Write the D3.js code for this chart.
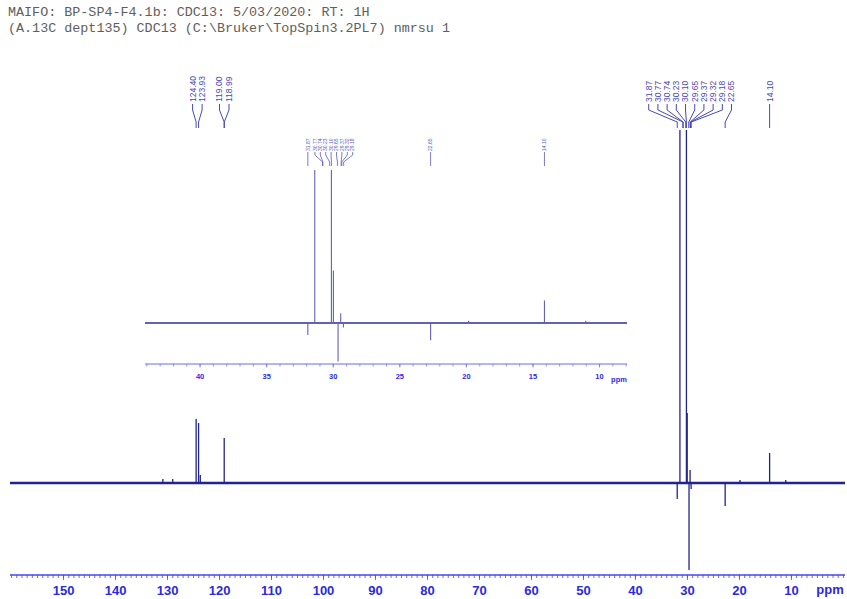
<!DOCTYPE html>
<html>
<head>
<meta charset="utf-8">
<script src="https://cdn.jsdelivr.net/npm/d3@7"></script>
<style>
  html, body { margin: 0; padding: 0; background: #fff; }
  svg { display: block; }
</style>
</head>
<body>
<svg id="chart" width="847" height="599"></svg>
<script>
// ---- header lines ----
const headerLines = [
  "MAIFO: BP-SP4-F4.1b: CDC13: 5/03/2020: RT: 1H",
  "(A.13C dept135) CDC13 (C:\\Bruker\\TopSpin3.2PL7) nmrsu 1"
];

// ---- spectrum peaks: chemical shift (ppm) and signed intensity ----
const peakPpm = [130.8, 128.9, 124.40, 123.93, 123.6, 119.00, 31.87, 31.35, 30.10, 29.95, 29.60, 29.40, 29.20, 22.65, 19.80, 14.10, 11.00];
const peakInt = [4, 4, 64, 60, 8, 45, -16, 1000, 1000, 70, -120, 13, -6, -23, 3, 30, 3];

// ---- peak-pick labels ----
const labelsLeft  = [124.40, 123.93, 119.00, 118.99];
const labelsRight = [31.87, 30.77, 30.74, 30.23, 30.10, 29.65, 29.37, 29.32, 29.18, 22.65];
const labelsFar   = [14.10];
const insetLabels = [31.87, 30.77, 30.74, 30.23, 30.10, 29.65, 29.37, 29.32, 29.18, 22.65, 14.10];

// ---- axis ticks ----
const mainTickLabels = [150, 140, 130, 120, 110, 100, 90, 80, 70, 60, 50, 40, 30, 20, 10];
const insetTickLabels = [40, 35, 30, 25, 20, 15, 10];

const svg = d3.select("#chart");

const cSpec = "#23238c", cInset = "#6262b4", cAxis = "#4646ee", cAxisText = "#2a2ae0", cLabel = "#4848b4";
const axisFont = "'Liberation Sans Narrow', 'Arial Narrow', 'Liberation Sans', sans-serif";

// header
svg.selectAll("text.hdr").data(headerLines).join("text")
  .attr("class", "hdr")
  .attr("x", 8).attr("y", (d, i) => 16 + i * 16)
  .attr("font-family", "'Liberation Mono', 'DejaVu Sans Mono', monospace")
  .attr("font-size", 13.4).attr("fill", "#5e5e5e")
  .text(d => d);

// ===== main spectrum =====
const x = d3.scaleLinear().domain([160.2, -0.4]).range([10, 845]);
const y = d3.scaleLinear().domain([-87, 353]).range([570, 130]).clamp(true);

const main = svg.append("g");
main.append("line")
  .attr("x1", x(160.2)).attr("x2", x(-0.4))
  .attr("y1", y(0)).attr("y2", y(0))
  .attr("stroke", cSpec).attr("stroke-width", 2.6);

main.selectAll("line.pk").data(d3.zip(peakPpm, peakInt)).join("line")
  .attr("class", "pk")
  .attr("x1", d => x(d[0])).attr("x2", d => x(d[0]))
  .attr("y1", y(0)).attr("y2", d => y(d[1]))
  .attr("stroke", cSpec).attr("stroke-width", 1.3);

// main axis: minor ticks every ppm, labelled ticks every 10
const axisY = 575;
const minorAxis = d3.axisBottom(x).tickValues(d3.range(0, 161, 1)).tickSize(3).tickFormat("");
const majorAxis = d3.axisBottom(x).tickValues(mainTickLabels).tickSize(5).tickPadding(6).tickFormat(d3.format("d"));
const gMinor = svg.append("g").attr("transform", `translate(0,${axisY})`).call(minorAxis);
const gMajor = svg.append("g").attr("transform", `translate(0,${axisY})`).call(majorAxis);
gMinor.select(".domain").attr("stroke", cAxis).attr("stroke-width", 1.5).attr("d", `M${x(160.2)},0H${x(-0.4)}`);
gMajor.select(".domain").remove();
[gMinor, gMajor].forEach(g => g.selectAll(".tick line").attr("stroke", cAxis).attr("stroke-width", 0.8));
gMajor.selectAll(".tick text")
  .attr("fill", cAxisText).attr("font-weight", "bold").attr("font-size", 13)
  .attr("font-family", axisFont);
svg.append("text").attr("x", 830).attr("y", 594).attr("text-anchor", "middle")
  .attr("fill", cAxisText).attr("font-weight", "bold").attr("font-size", 13)
  .attr("font-family", axisFont)
  .text("ppm");

// spread clustered labels apart, centring each cluster on its peaks
function spread(values, scale, gap) {
  let clusters = values.map(v => ({ items: [v], c: scale(v) }));
  clusters.sort((a, b) => a.c - b.c);
  let merged = true;
  while (merged) {
    merged = false;
    for (let i = 1; i < clusters.length; i++) {
      const a = clusters[i - 1], b = clusters[i];
      const aEnd = a.c + (a.items.length - 1) * gap / 2;
      const bStart = b.c - (b.items.length - 1) * gap / 2;
      if (bStart - aEnd < gap) {
        const items = a.items.concat(b.items);
        const c = d3.mean(items, v => scale(v));
        clusters.splice(i - 1, 2, { items, c });
        merged = true;
        break;
      }
    }
  }
  const out = [];
  clusters.forEach(cl => {
    const sorted = cl.items.slice().sort((p, q) => scale(p) - scale(q));
    sorted.forEach((v, k) => out.push({ v, lx: cl.c + (k - (sorted.length - 1) / 2) * gap, px: scale(v) }));
  });
  return out;
}

function drawLabels(list, opt) {
  const g = svg.append("g");
  list.forEach(d => {
    g.append("text")
      .attr("transform", `translate(${d.lx + opt.fs * 0.35},${opt.textBottom}) rotate(-90)`)
      .attr("font-family", "'Liberation Sans', Arial, sans-serif")
      .attr("font-size", opt.fs).attr("fill", opt.color)
      .text(d3.format(".2f")(d.v));
    g.append("path")
      .attr("d", `M${d.lx},${opt.l0}V${opt.l1}L${d.px},${opt.l2}V${opt.l3}`)
      .attr("fill", "none").attr("stroke", opt.color).attr("stroke-width", opt.sw);
  });
}

const mainOpt = { fs: 8.5, textBottom: 102, l0: 104, l1: 110, l2: 122, l3: 128, color: cLabel, sw: 1 };
drawLabels(spread(labelsLeft, x, 9.5), mainOpt);
drawLabels(spread(labelsRight, x, 9.2), mainOpt);
drawLabels(spread(labelsFar, x, 9.2), mainOpt);

// ===== inset expansion 44 – 8 ppm =====
const xi = d3.scaleLinear().domain([44.1, 7.9]).range([145, 627]);
const yi = d3.scaleLinear().domain([-51.3, 204]).range([361.5, 170]).clamp(true);

const inset = svg.append("g");
inset.append("line")
  .attr("x1", xi(44.1)).attr("x2", xi(7.9))
  .attr("y1", yi(0)).attr("y2", yi(0))
  .attr("stroke", cInset).attr("stroke-width", 1.8);
const insetPeaks = d3.zip(peakPpm, peakInt).filter(d => d[0] <= 44.1 && d[0] >= 7.9);
inset.selectAll("line.pk").data(insetPeaks).join("line")
  .attr("class", "pk")
  .attr("x1", d => xi(d[0])).attr("x2", d => xi(d[0]))
  .attr("y1", yi(0)).attr("y2", d => yi(d[1]))
  .attr("stroke", cInset).attr("stroke-width", 1.1);

const insetAxisY = 364;
const iMinor = d3.axisBottom(xi).tickValues(d3.range(8, 45, 1)).tickSize(2.5).tickFormat("");
const iMajor = d3.axisBottom(xi).tickValues(insetTickLabels).tickSize(3.5).tickPadding(6).tickFormat(d3.format("d"));
const giMinor = svg.append("g").attr("transform", `translate(0,${insetAxisY})`).call(iMinor);
const giMajor = svg.append("g").attr("transform", `translate(0,${insetAxisY})`).call(iMajor);
giMinor.select(".domain").attr("stroke", "#6a6af0").attr("stroke-width", 1).attr("d", `M${xi(44.1)},0H${xi(7.9)}`);
giMajor.select(".domain").remove();
[giMinor, giMajor].forEach(g => g.selectAll(".tick line").attr("stroke", "#6a6af0").attr("stroke-width", 0.7));
giMajor.selectAll(".tick text")
  .attr("fill", cAxisText).attr("font-weight", "bold").attr("font-size", 7.5)
  .attr("font-family", axisFont);
svg.append("text").attr("x", 619).attr("y", 382).attr("text-anchor", "middle")
  .attr("fill", cAxisText).attr("font-weight", "bold").attr("font-size", 7.5)
  .attr("font-family", axisFont)
  .text("ppm");

const insetOpt = { fs: 5, textBottom: 151, l0: 152, l1: 155, l2: 162, l3: 166, color: "#5a5ab8", sw: 0.8 };
drawLabels(spread(insetLabels, xi, 5.4), insetOpt);
</script>
</body>
</html>
